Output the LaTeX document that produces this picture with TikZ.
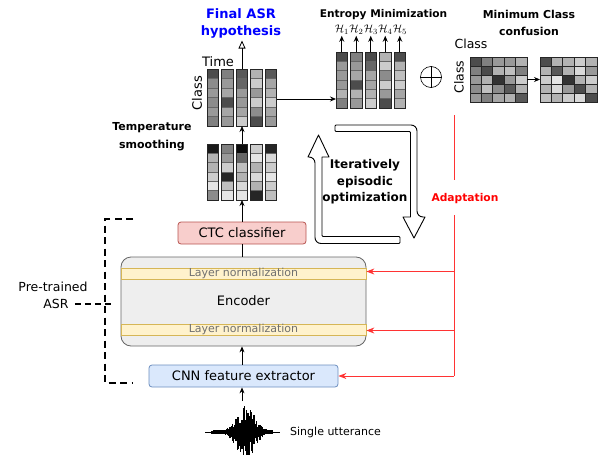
\documentclass[tikz,border=0pt]{standalone}
\usepackage{fontspec}
\setmainfont{DejaVu Sans}
\usetikzlibrary{arrows.meta}
\definecolor{ctcfill}{HTML}{F8CECC}
\definecolor{ctcdraw}{HTML}{B85450}
\definecolor{encfill}{HTML}{EEEEEE}
\definecolor{encdraw}{HTML}{666666}
\definecolor{lnfill}{HTML}{FFF2CC}
\definecolor{lndraw}{HTML}{D6B656}
\definecolor{lntext}{HTML}{707070}
\definecolor{cnnfill}{HTML}{DAE8FC}
\definecolor{cnndraw}{HTML}{6C8EBF}
\definecolor{adred}{HTML}{FF3333}
\definecolor{asrblue}{HTML}{0000FF}
% column of 6 cells: x, y0, w, h, darkness list
\newcommand\mcolumn[5]{%
  \foreach \v [count=\r from 0] in {#5}{%
    \filldraw[fill=black!\v, draw=black!60, line width=0.6pt] ({#1},{#2+\r*#4}) rectangle ++(#3,#4);}
  \draw[black!85, line width=0.8pt] ({#1},{#2}) rectangle ++(#3,{6*#4});}
% row of 5 cells: x0, y, w, h, darkness list
\newcommand\mgridrow[5]{%
  \foreach \v [count=\c from 0] in {#5}{%
    \filldraw[fill=black!\v, draw=black!85, line width=0.7pt] ({#1+\c*#3},{#2}) rectangle ++(#3,#4);}}
\begin{document}
\begin{tikzpicture}[x=1pt,y=-1pt,
  anchorbox/.style={inner sep=0pt, outer sep=0pt},
  txt/.style={inner sep=0pt, font=\fontsize{13}{15}\selectfont},
  btitle/.style={inner sep=0pt, align=center, font=\bfseries\fontsize{10.8}{16}\selectfont},
  arr/.style={line width=0.8pt, -{Stealth[length=6pt,width=5pt]}},
  redline/.style={draw=adred, line width=0.9pt},
  redarr/.style={draw=adred, line width=0.9pt, -{Stealth[length=8pt,width=6pt]}},
  flexarrow/.style={draw=black, fill=white, line width=0.9pt, line join=round},
  bracket/.style={line width=1.7pt, dash pattern=on 7pt off 4.5pt},
  ctcbox/.style={draw=ctcdraw, fill=ctcfill, rounded corners=3pt, line width=0.8pt, minimum width=128pt, minimum height=22pt, inner sep=0pt, font=\fontsize{13}{15}\selectfont},
  encbox/.style={draw=encdraw, fill=encfill, rounded corners=10pt, line width=0.8pt, minimum width=245pt, minimum height=89pt, inner sep=0pt},
  lnbox/.style={draw=lndraw, fill=lnfill, line width=0.7pt, minimum width=245pt, minimum height=11pt, inner sep=0pt, text=lntext, font=\fontsize{11}{11}\selectfont},
  cnnbox/.style={draw=cnndraw, fill=cnnfill, rounded corners=3pt, line width=0.8pt, minimum width=189pt, minimum height=22pt, inner sep=0pt, font=\fontsize{13}{15}\selectfont}
]
\useasboundingbox (0,0) rectangle (600,455);

% ---------- matrices ----------
% smoothed (top)
\mcolumn{207}{69}{11.5}{9.5}{70,45,40,45,40,50}
\mcolumn{221.5}{69}{11.5}{9.5}{50,40,35,70,35,40}
\mcolumn{236}{69}{11.5}{9.5}{65,60,40,40,35,20}
\mcolumn{250.5}{69}{11.5}{9.5}{30,20,40,20,45,70}
\mcolumn{265}{69}{11.5}{9.5}{65,35,30,20,35,40}
\node[anchorbox, minimum width=70pt, minimum height=57pt] (mtop) at (242,97.5) {};
% raw (bottom)
\mcolumn{207}{144}{11.5}{9.33}{90,30,30,20,10,45}
\mcolumn{221.5}{144}{11.5}{9.33}{50,40,20,85,25,10}
\mcolumn{236}{144}{11.5}{9.33}{95,60,25,30,15,10}
\mcolumn{250.5}{144}{11.5}{9.33}{20,10,30,15,30,85}
\mcolumn{265}{144}{11.5}{9.33}{85,15,20,10,20,25}
\node[anchorbox, minimum width=70pt, minimum height=56pt] (mbot) at (242,172) {};
% entropy
\mcolumn{336}{52}{11.5}{9.33}{70,40,40,40,30,50}
\mcolumn{350.5}{52}{11.5}{9.33}{50,40,35,70,30,40}
\mcolumn{365}{52}{11.5}{9.33}{70,60,35,35,30,20}
\mcolumn{379.5}{52}{11.5}{9.33}{30,20,45,20,40,70}
\mcolumn{394}{52}{11.5}{9.33}{70,30,25,20,35,30}
\node[anchorbox, minimum width=69.5pt, minimum height=56pt] (ment) at (370.75,80) {};
% class confusion grids
\mgridrow{470}{57}{11.4}{9}{70,50,40,40,30}
\mgridrow{470}{66}{11.4}{9}{50,70,30,25,50}
\mgridrow{470}{75}{11.4}{9}{40,30,80,40,20}
\mgridrow{470}{84}{11.4}{9}{45,25,45,65,30}
\mgridrow{470}{93}{11.4}{9}{40,50,35,30,65}
\node[anchorbox, minimum width=57pt, minimum height=45pt] (gL) at (498.5,79.5) {};
\mgridrow{540}{57}{11.4}{9}{70,30,30,20,30}
\mgridrow{540}{66}{11.4}{9}{30,65,30,15,40}
\mgridrow{540}{75}{11.4}{9}{20,10,80,30,20}
\mgridrow{540}{84}{11.4}{9}{30,15,40,70,30}
\mgridrow{540}{93}{11.4}{9}{25,30,20,15,70}
\node[anchorbox, minimum width=57pt, minimum height=45pt] (gR) at (568.5,79.5) {};

% ---------- labels at top ----------
\node[btitle, text=asrblue, font=\bfseries\fontsize{13}{17}\selectfont] (final) at (241,23.5) {Final ASR\\hypothesis};
\node[txt] (time) at (218,62) {Time};
\node[txt, rotate=90] (cls1) at (197,93) {Class};
\node[btitle, font=\bfseries\fontsize{11}{18}\selectfont] (temp) at (152,137) {Temperature\\smoothing};
\node[btitle, font=\bfseries\fontsize{10.6}{16}\selectfont] (entr) at (383.5,15) {Entropy Minimization};
\node[btitle, font=\bfseries\fontsize{10.9}{16.5}\selectfont] (mcc) at (529,23) {Minimum Class\\confusion};
\node[txt, font=\fontsize{12.5}{15}\selectfont] (cls2) at (471,44) {Class};
\node[txt, rotate=90, font=\fontsize{12.5}{15}\selectfont] (cls3) at (459,77) {Class};
\foreach \i/\x in {1/341.75,2/356.25,3/370.75,4/385.25,5/399.75}{
  \node[inner sep=0pt, font=\fontsize{11}{13}\selectfont] (h\i) at (\x,30) {$\mathcal{H}_{\i}$};
  \draw[arr] (h\i.south |- ment.north) -- ([yshift=-1pt]h\i.south);
}
\node[draw, circle, minimum size=21pt, inner sep=0pt, line width=0.6pt] (plus) at (431,77) {};
\draw[line width=0.6pt] (plus.north) -- (plus.south) (plus.west) -- (plus.east);

% ---------- arrows among matrices ----------
\draw[line width=0.8pt, -{Triangle[open,length=8pt,width=7pt]}] (mtop.north) -- ([yshift=-2pt]final.south -| mtop.north);
\draw[arr] (mbot.north) -- (mbot.north |- mtop.south);
\draw[arr] ([yshift=-1.5pt]mtop.east) -- ([yshift=-1.5pt]mtop.east -| ment.west);
\draw[arr] (gL.east) -- (gR.west);

% ---------- iterative loop ----------
\draw[flexarrow] (335,125) [rounded corners=6pt]-- (417,125) -- (417,217) [sharp corners]-- (425,217) -- (414,238) -- (403,217) -- (410.5,217) [rounded corners=1pt]-- (410.5,131.5) -- (335,131.5) -- cycle;
\draw[flexarrow] (400,243.5) [rounded corners=6pt]-- (315,243.5) -- (315,157) [sharp corners]-- (308,157) -- (318.5,135) -- (329,157) -- (322,157) [rounded corners=1pt]-- (322,236.5) -- (400,236.5) -- cycle;
\node[btitle, font=\bfseries\fontsize{12}{16.5}\selectfont] (iter) at (365,182) {Iteratively\\episodic\\optimization};

% ---------- model ----------
\node[ctcbox] (ctc) at (242,233) {CTC classifier};
\node[encbox] (enc) at (243.5,301.5) {};
\node[lnbox] (ln1) at (243.5,273.5) {Layer normalization};
\node[lnbox] (ln2) at (243.5,329.5) {Layer normalization};
\node[txt] (enctext) at (243.5,301) {Encoder};
\node[cnnbox] (cnn) at (243.5,376) {CNN feature extractor};

\draw[line width=0.8pt] (ctc.south) -- (ctc.south |- enc.north);
\draw[arr] (ctc.north) -- (ctc.north |- mbot.south);
\draw[arr] (cnn.north -| ctc.south) -- (ctc.south |- enc.south);

% ---------- waveform ----------
\coordinate (wc) at (242,432);
\coordinate (wavetop) at (242,401);
\draw[line width=0.8pt] ([xshift=-37pt]wc) -- ([xshift=38pt]wc);
\pgfmathsetseed{7}
\foreach \dx in {-30,-28.8,...,30}{
  \pgfmathsetmacro\u{1.5+29*exp(-((\dx-4)/12)^2)*(0.3+0.7*rnd)}
  \pgfmathsetmacro\d{1.5+25*exp(-((\dx-4)/12)^2)*(0.3+0.7*rnd)}
  \draw[line width=1.1pt] ([xshift=\dx pt, yshift=-\u pt]wc) -- ([xshift=\dx pt, yshift=\d pt]wc);
}
\draw[arr] (wavetop) -- (wavetop |- cnn.south);
\node[inner sep=0pt, anchor=west, font=\fontsize{11}{13}\selectfont] (single) at (290,432) {Single utterance};

% ---------- pre-trained bracket ----------
\node[inner sep=0pt, font=\fontsize{12.5}{15}\selectfont] (pt1) at (53,287) {Pre-trained};
\node[inner sep=0pt, font=\fontsize{12.5}{15}\selectfont] (pt2) at (56,304) {ASR};
\coordinate (br1) at (133,219);
\coordinate (br2) at (133,383);
\draw[bracket] (br1) -- (105,219) -- (105,383) -- (br2);
\draw[bracket, dash pattern=on 6pt off 4pt] ([xshift=6pt]pt2.east) -- ([xshift=6pt]pt2.east -| 105,0);

% ---------- adaptation ----------
\coordinate (adtop) at (454,115);
\coordinate (ad1) at (454,180);
\coordinate (ad2) at (454,215);
\coordinate (adbot) at (454,376);
\node[inner sep=0pt, text=red, font=\bfseries\fontsize{10.7}{13}\selectfont] (adapt) at (465,199) {Adaptation};
\draw[redline] (adtop) -- (ad1);
\draw[redline] (ad2) -- (adbot);
\draw[redarr] (adbot) -- (cnn.east);
\draw[redarr] ([yshift=2pt]ln1.east -| adbot) -- ([yshift=2pt]ln1.east);
\draw[redarr] ([yshift=-1pt]ln2.east -| adbot) -- ([yshift=-1pt]ln2.east);
\end{tikzpicture}
\end{document}
